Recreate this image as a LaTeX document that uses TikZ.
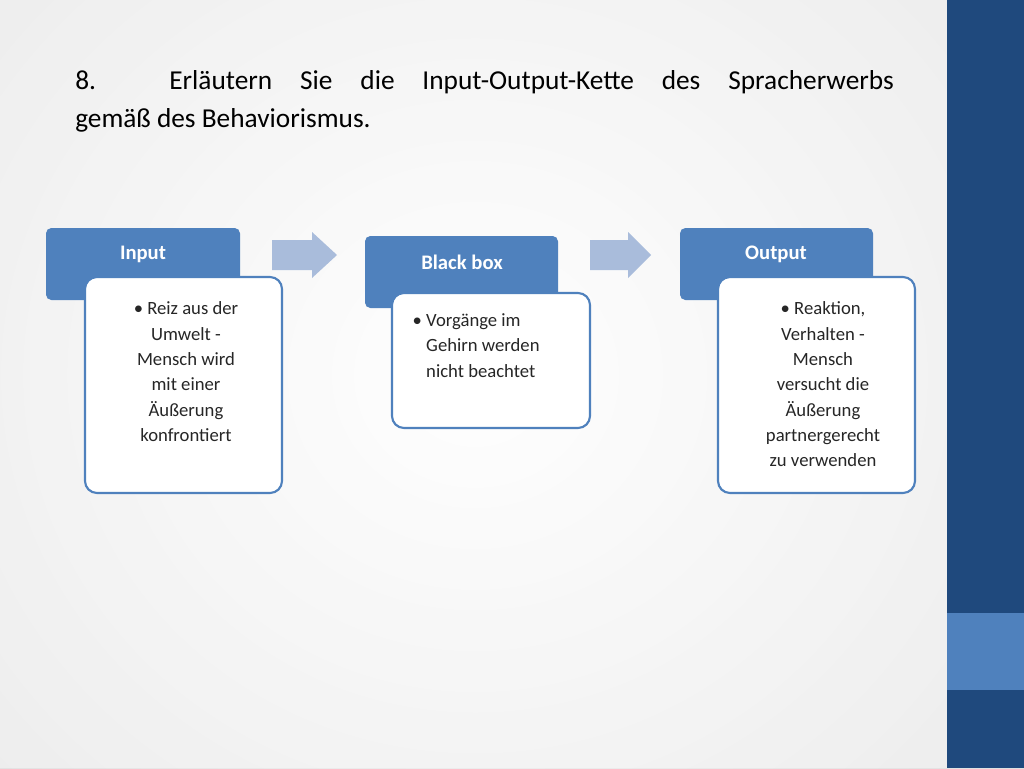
\documentclass[tikz,border=0pt]{standalone}
\usepackage{fontspec}
\setmainfont{Carlito}
\definecolor{hdr}{HTML}{4F81BD}
\definecolor{bar}{HTML}{1F497D}
\definecolor{arr}{HTML}{A9BCDB}
\begin{document}
\begin{tikzpicture}[x=0.75pt,y=-0.75pt,
  head/.style={fill=hdr,rounded corners=4pt},
  htxt/.style={text=white,font=\fontsize{15.5}{18}\selectfont\bfseries},
  body/.style={draw=hdr,line width=1.6pt,fill=white,rounded corners=9pt},
  txt/.style={align=center,font=\fontsize{14}{19}\selectfont,text=black!85}]
\useasboundingbox (0,0) rectangle (1024,768);
\shade[inner color=white,outer color=black!12] (-200,-250) rectangle (1150,1000);
\fill[white,opacity=0.4] (0,0) rectangle (947,768);
\fill[bar] (947,0) rectangle (1024,768);
\fill[hdr] (947,613) rectangle (1024,690);
\node[anchor=north west,text width=614pt,align=justify,font=\fontsize{20.5}{28.5}\selectfont,inner sep=0pt] (title) at (75,70)
 {8. Erläutern Sie die Input-Output-Kette des Spracherwerbs\linebreak gemäß des Behaviorismus.};
% Input
\path[head] (46,228) rectangle (240,300);
\node[htxt] (h1) at (143,254) {Input};
\path[body] (85,277) rectangle (282,493);
\node[txt,anchor=north] (b1) at (186,297) {• Reiz aus der\\Umwelt -\\Mensch wird\\mit einer\\Äußerung\\konfrontiert};
% arrow 1
\fill[arr] (272,240) -- (312,240) -- (312,232) -- (337,255) -- (312,278) -- (312,270) -- (272,270) -- cycle;
% Black box
\path[head] (365,236) rectangle (558,308);
\node[htxt] (h2) at (462,262) {Black box};
\path[body] (392,293) rectangle (590,428);
\node[txt,anchor=north west,align=left] (b2) at (408,309) {• Vorgänge im\\\hphantom{• }Gehirn werden\\\hphantom{• }nicht beachtet};
% arrow 2
\fill[arr] (590,240) -- (628,240) -- (628,232) -- (651,255) -- (628,278) -- (628,270) -- (590,270) -- cycle;
% Output
\path[head] (680,228) rectangle (873,300);
\node[htxt] (h3) at (776,254) {Output};
\path[body] (718,277) rectangle (915,493);
\node[txt,anchor=north] (b3) at (823,297) {• Reaktion,\\Verhalten -\\Mensch\\versucht die\\Äußerung\\partnergerecht\\zu verwenden};
\end{tikzpicture}
\end{document}
